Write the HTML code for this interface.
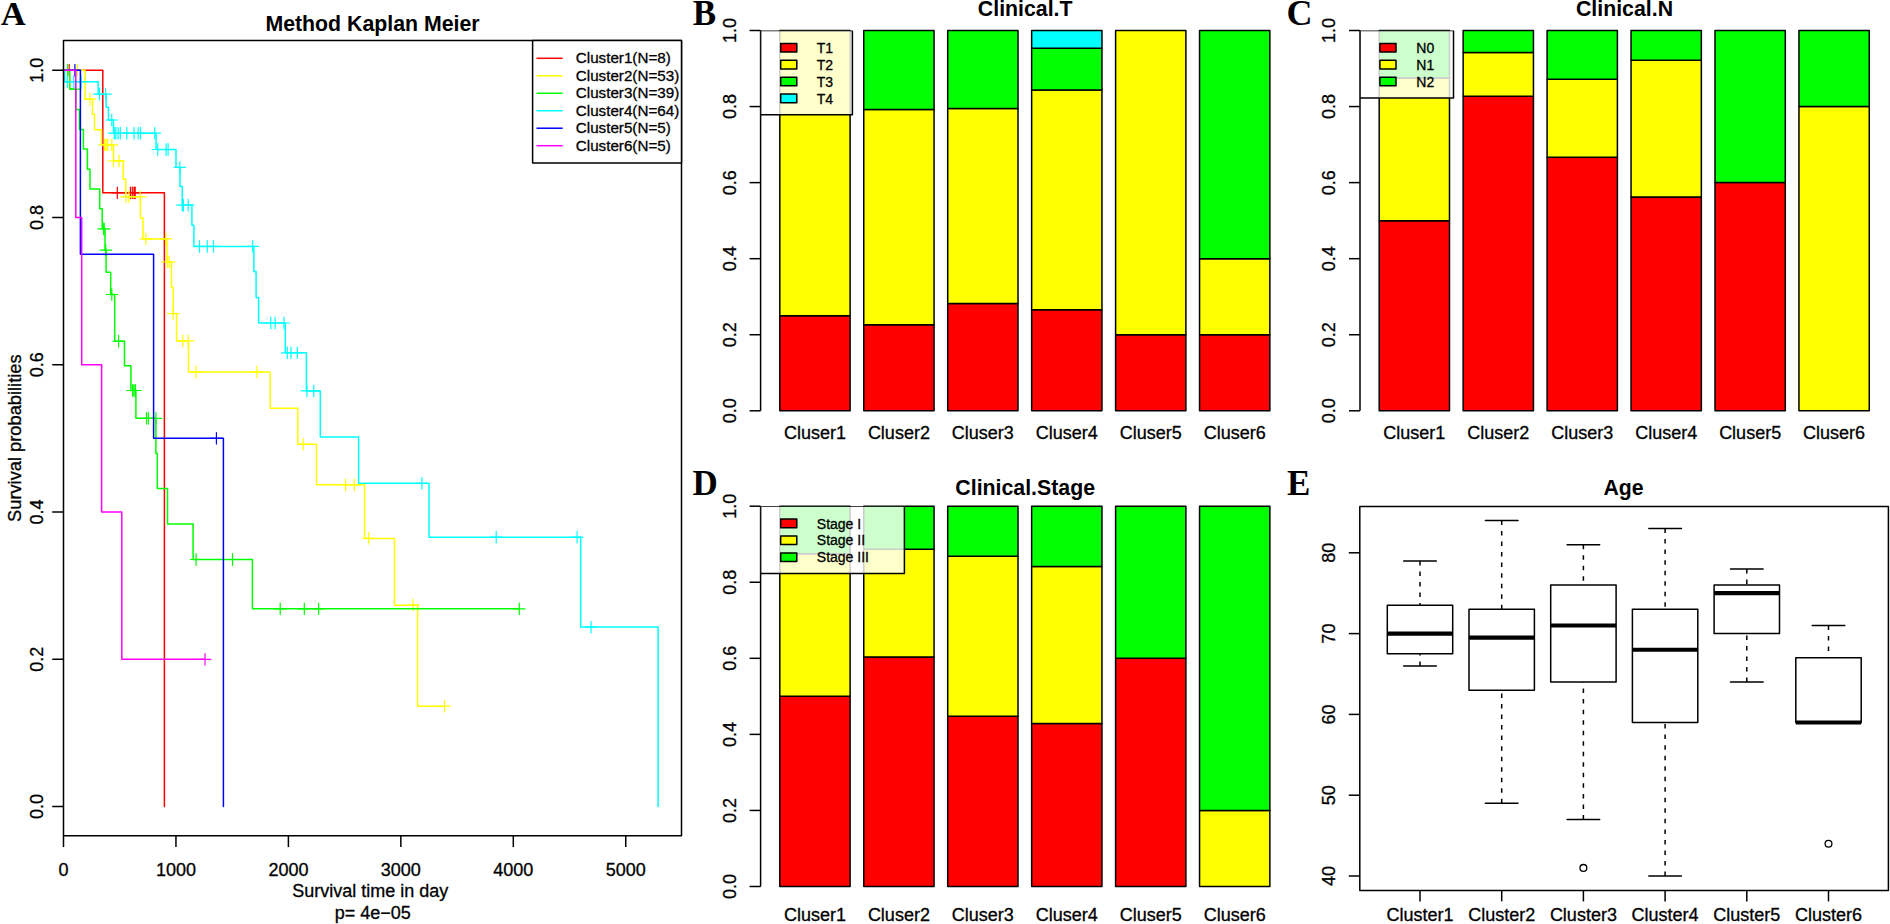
<!DOCTYPE html>
<html lang="en"><head><meta charset="utf-8"><title>Cluster survival and clinical features</title>
<style>html,body{margin:0;padding:0;background:#fff;}body{width:1890px;height:924px;overflow:hidden;}svg{display:block;}svg text{font-family:"Liberation Sans", Arial, Helvetica, sans-serif;stroke:#000;stroke-width:.3px;}svg text[font-weight=bold]{stroke:none;}svg text.sf{font-family:"Liberation Serif", "Times New Roman", serif;}</style></head><body>
<svg width="1890" height="924" viewBox="0 0 1890 924">
<rect x="0" y="0" width="1890" height="924" fill="#fff"/>
<text x="0.7" y="24.6" font-size="34.6" text-anchor="start" font-weight="bold" class="sf">A</text>
<text x="692.7" y="24.8" font-size="35" text-anchor="start" font-weight="bold" class="sf">B</text>
<text x="1286.6" y="24.7" font-size="36" text-anchor="start" font-weight="bold" class="sf">C</text>
<text x="692.5" y="495.2" font-size="35" text-anchor="start" font-weight="bold" class="sf">D</text>
<text x="1287" y="495.4" font-size="35" text-anchor="start" font-weight="bold" class="sf">E</text>
<g id="panelA">
<clipPath id="clipA"><rect x="63.5" y="40.5" width="618.0" height="795.3"/></clipPath>
<text x="372.5" y="30.8" font-size="21.3" text-anchor="middle" font-weight="bold">Method Kaplan Meier</text>
<g fill="none" stroke="#FF0000" stroke-width="1.5" stroke-linecap="round" stroke-linejoin="round" clip-path="url(#clipA)"><path d="M63.5,70.25 H102.8 V192.8 H164.4 V806.5"/><path d="M63.40,70.25h11.6M69.2,64.45v11.6M111.50,192.8h11.6M117.3,187.00v11.6M124.60,192.8h11.6M130.4,187.00v11.6M126.50,192.8h11.6M132.3,187.00v11.6M128.20,192.8h11.6M134.0,187.00v11.6M129.40,192.8h11.6M135.2,187.00v11.6" stroke-width="1.2"/></g>
<g fill="none" stroke="#FFFF00" stroke-width="1.5" stroke-linecap="round" stroke-linejoin="round" clip-path="url(#clipA)"><path d="M63.5,70.25 H85.1 V99.1 H92.5 V114.3 H94.5 V129.7 H101.6 V144.8 H113.5 V161 H123.2 V179.2 H125.7 V196.8 H140.4 V218 H143 V238.9 H167 V261.9 H171.5 V287.5 H173.2 V313.6 H176.6 V340.9 H188.5 V371.9 H270.2 V408.2 H297.8 V444.3 H316.5 V484.8 H364.6 V538.4 H394.5 V605.2 H417.6 V706.2 H444.5"/><path d="M71.40,70.25h11.6M77.2,64.45v11.6M84.20,99.1h11.6M90,93.30v11.6M98.80,144.8h11.6M104.6,139.00v11.6M100.30,144.8h11.6M106.1,139.00v11.6M101.80,144.8h11.6M107.6,139.00v11.6M106.00,144.8h11.6M111.8,139.00v11.6M107.70,161h11.6M113.5,155.20v11.6M113.20,161h11.6M119,155.20v11.6M120.20,196.8h11.6M126,191.00v11.6M123.10,196.8h11.6M128.9,191.00v11.6M134.40,196.8h11.6M140.2,191.00v11.6M140.10,238.9h11.6M145.9,233.10v11.6M160.00,238.9h11.6M165.8,233.10v11.6M161.70,261.9h11.6M167.5,256.10v11.6M163.40,261.9h11.6M169.2,256.10v11.6M167.40,313.6h11.6M173.2,307.80v11.6M177.00,340.9h11.6M182.8,335.10v11.6M182.40,340.9h11.6M188.2,335.10v11.6M190.10,371.9h11.6M195.9,366.10v11.6M251.10,371.9h11.6M256.9,366.10v11.6M297.40,444.3h11.6M303.2,438.50v11.6M339.80,484.8h11.6M345.6,479.00v11.6M348.50,484.8h11.6M354.3,479.00v11.6M362.90,538.4h11.6M368.7,532.60v11.6M407.30,605.2h11.6M413.1,599.40v11.6M438.70,706.2h11.6M444.5,700.40v11.6" stroke-width="1.2"/></g>
<g fill="none" stroke="#00FF00" stroke-width="1.5" stroke-linecap="round" stroke-linejoin="round" clip-path="url(#clipA)"><path d="M63.5,70.25 H69.8 V89.1 H75.9 V109.5 H79.4 V129.4 H83.4 V149.1 H87.4 V169.3 H90 V188.9 H99.7 V208.75 H102.2 V228.9 H105 V250.2 H106.1 V272.2 H110.7 V294.5 H114.7 V341.25 H124.5 V365.7 H130.9 V390.5 H135.9 V418.3 H155.9 V453.5 H157.3 V488.6 H167.5 V524 H193.1 V559.5 H252.4 V608.8 H519.3"/><path d="M61.90,70.25h11.6M67.7,64.45v11.6M69.70,89.1h11.6M75.5,83.30v11.6M97.80,228.9h11.6M103.6,223.10v11.6M98.40,228.9h11.6M104.2,223.10v11.6M100.00,250.2h11.6M105.8,244.40v11.6M106.00,294.5h11.6M111.8,288.70v11.6M112.80,341.25h11.6M118.6,335.45v11.6M126.80,390.5h11.6M132.6,384.70v11.6M128.20,390.5h11.6M134,384.70v11.6M129.70,390.5h11.6M135.5,384.70v11.6M140.70,418.3h11.6M146.5,412.50v11.6M142.60,418.3h11.6M148.4,412.50v11.6M150.10,418.3h11.6M155.9,412.50v11.6M190.30,559.5h11.6M196.1,553.70v11.6M226.70,559.5h11.6M232.5,553.70v11.6M274.40,608.8h11.6M280.2,603.00v11.6M298.50,608.8h11.6M304.3,603.00v11.6M312.80,608.8h11.6M318.6,603.00v11.6M513.50,608.8h11.6M519.3,603.00v11.6" stroke-width="1.2"/></g>
<g fill="none" stroke="#00FFFF" stroke-width="1.5" stroke-linecap="round" stroke-linejoin="round" clip-path="url(#clipA)"><path d="M63.5,70.25 H64.5 V81.7 H98.2 V94.2 H106.1 V107.3 H108.4 V120 H113.5 V133.2 H156.1 V149.5 H176 V167.3 H180 V186.4 H182.3 V205.1 H191.9 V225.2 H193.9 V246.4 H253.9 V271.6 H256.1 V297.4 H258.6 V323 H285.3 V352.8 H306.4 V390.9 H320.3 V436.9 H358.6 V483.3 H429 V537.2 H580.7 V627.1 H658.1 V806.5"/><path d="M61.50,81.7h11.6M67.3,75.90v11.6M67.95,81.7h11.6M73.75,75.90v11.6M75.30,81.7h11.6M81.1,75.90v11.6M93.70,94.2h11.6M99.5,88.40v11.6M99.80,94.2h11.6M105.6,88.40v11.6M106.00,120h11.6M111.8,114.20v11.6M108.50,133.2h11.6M114.3,127.40v11.6M110.00,133.2h11.6M115.8,127.40v11.6M112.30,133.2h11.6M118.1,127.40v11.6M114.50,133.2h11.6M120.3,127.40v11.6M121.00,133.2h11.6M126.8,127.40v11.6M128.20,133.2h11.6M134,127.40v11.6M132.40,133.2h11.6M138.2,127.40v11.6M134.70,133.2h11.6M140.5,127.40v11.6M149.00,133.2h11.6M154.8,127.40v11.6M152.00,149.5h11.6M157.8,143.70v11.6M160.30,149.5h11.6M166.1,143.70v11.6M162.30,149.5h11.6M168.1,143.70v11.6M174.00,167.3h11.6M179.8,161.50v11.6M176.50,205.1h11.6M182.3,199.30v11.6M177.60,205.1h11.6M183.4,199.30v11.6M182.40,205.1h11.6M188.2,199.30v11.6M193.70,246.4h11.6M199.5,240.60v11.6M201.50,246.4h11.6M207.3,240.60v11.6M207.70,246.4h11.6M213.5,240.60v11.6M246.90,246.4h11.6M252.7,240.60v11.6M265.00,323h11.6M270.8,317.20v11.6M269.30,323h11.6M275.1,317.20v11.6M278.20,323h11.6M284,317.20v11.6M281.50,352.8h11.6M287.3,347.00v11.6M285.20,352.8h11.6M291,347.00v11.6M291.50,352.8h11.6M297.3,347.00v11.6M301.10,390.9h11.6M306.9,385.10v11.6M307.95,390.9h11.6M313.75,385.10v11.6M416.10,483.3h11.6M421.9,477.50v11.6M490.40,537.2h11.6M496.2,531.40v11.6M571.30,537.2h11.6M577.1,531.40v11.6M585.20,627.1h11.6M591,621.30v11.6" stroke-width="1.2"/></g>
<g fill="none" stroke="#0000FF" stroke-width="1.5" stroke-linecap="round" stroke-linejoin="round" clip-path="url(#clipA)"><path d="M63.5,70.25 H80.4 V254.3 H153.6 V438.3 H223.4 V806.5"/><path d="M69.10,70.25h11.6M74.9,64.45v11.6M210.60,438.3h11.6M216.4,432.50v11.6" stroke-width="1.2"/></g>
<g fill="none" stroke="#FF00FF" stroke-width="1.5" stroke-linecap="round" stroke-linejoin="round" clip-path="url(#clipA)"><path d="M63.5,70.25 H75.8 V217.5 H81.7 V364.8 H101.6 V512 H121.8 V659.3 H205"/><path d="M199.20,659.3h11.6M205,653.50v11.6" stroke-width="1.2"/></g>
<rect x="63.50" y="40.50" width="618.00" height="795.30" fill="none" stroke="#000" stroke-width="1.5" stroke-linejoin="round"/>
<line x1="63.50" y1="835.8" x2="63.50" y2="847.0999999999999" stroke="#000" stroke-width="1.5"/>
<text x="63.50" y="875.7" font-size="18" text-anchor="middle">0</text>
<line x1="175.95" y1="835.8" x2="175.95" y2="847.0999999999999" stroke="#000" stroke-width="1.5"/>
<text x="175.95" y="875.7" font-size="18" text-anchor="middle">1000</text>
<line x1="288.40" y1="835.8" x2="288.40" y2="847.0999999999999" stroke="#000" stroke-width="1.5"/>
<text x="288.40" y="875.7" font-size="18" text-anchor="middle">2000</text>
<line x1="400.85" y1="835.8" x2="400.85" y2="847.0999999999999" stroke="#000" stroke-width="1.5"/>
<text x="400.85" y="875.7" font-size="18" text-anchor="middle">3000</text>
<line x1="513.30" y1="835.8" x2="513.30" y2="847.0999999999999" stroke="#000" stroke-width="1.5"/>
<text x="513.30" y="875.7" font-size="18" text-anchor="middle">4000</text>
<line x1="625.75" y1="835.8" x2="625.75" y2="847.0999999999999" stroke="#000" stroke-width="1.5"/>
<text x="625.75" y="875.7" font-size="18" text-anchor="middle">5000</text>
<line x1="52.2" y1="806.50" x2="63.5" y2="806.50" stroke="#000" stroke-width="1.5"/>
<text x="43.3" y="806.50" font-size="18" text-anchor="middle" transform="rotate(-90 43.3 806.50)">0.0</text>
<line x1="52.2" y1="659.25" x2="63.5" y2="659.25" stroke="#000" stroke-width="1.5"/>
<text x="43.3" y="659.25" font-size="18" text-anchor="middle" transform="rotate(-90 43.3 659.25)">0.2</text>
<line x1="52.2" y1="512.00" x2="63.5" y2="512.00" stroke="#000" stroke-width="1.5"/>
<text x="43.3" y="512.00" font-size="18" text-anchor="middle" transform="rotate(-90 43.3 512.00)">0.4</text>
<line x1="52.2" y1="364.75" x2="63.5" y2="364.75" stroke="#000" stroke-width="1.5"/>
<text x="43.3" y="364.75" font-size="18" text-anchor="middle" transform="rotate(-90 43.3 364.75)">0.6</text>
<line x1="52.2" y1="217.50" x2="63.5" y2="217.50" stroke="#000" stroke-width="1.5"/>
<text x="43.3" y="217.50" font-size="18" text-anchor="middle" transform="rotate(-90 43.3 217.50)">0.8</text>
<line x1="52.2" y1="70.25" x2="63.5" y2="70.25" stroke="#000" stroke-width="1.5"/>
<text x="43.3" y="70.25" font-size="18" text-anchor="middle" transform="rotate(-90 43.3 70.25)">1.0</text>
<text x="370.3" y="897.1" font-size="18" text-anchor="middle">Survival time in day</text>
<text x="372.7" y="918.7" font-size="18" text-anchor="middle">p= 4e&#8722;05</text>
<text x="21" y="438.2" font-size="18.27" text-anchor="middle" transform="rotate(-90 21 438.2)">Survival probabilities</text>
<rect x="532.60" y="40.50" width="148.90" height="122.60" fill="#fff" stroke="#000" stroke-width="1.5" stroke-linejoin="round"/>
<line x1="536.5" y1="58.30" x2="562.7" y2="58.30" stroke="#FF0000" stroke-width="1.5"/>
<text x="575.8" y="63.20" font-size="15.2" text-anchor="start">Cluster1(N=8)</text>
<line x1="536.5" y1="75.78" x2="562.7" y2="75.78" stroke="#FFFF00" stroke-width="1.5"/>
<text x="575.8" y="80.68" font-size="15.2" text-anchor="start">Cluster2(N=53)</text>
<line x1="536.5" y1="93.26" x2="562.7" y2="93.26" stroke="#00FF00" stroke-width="1.5"/>
<text x="575.8" y="98.16" font-size="15.2" text-anchor="start">Cluster3(N=39)</text>
<line x1="536.5" y1="110.74" x2="562.7" y2="110.74" stroke="#00FFFF" stroke-width="1.5"/>
<text x="575.8" y="115.64" font-size="15.2" text-anchor="start">Cluster4(N=64)</text>
<line x1="536.5" y1="128.22" x2="562.7" y2="128.22" stroke="#0000FF" stroke-width="1.5"/>
<text x="575.8" y="133.12" font-size="15.2" text-anchor="start">Cluster5(N=5)</text>
<line x1="536.5" y1="145.70" x2="562.7" y2="145.70" stroke="#FF00FF" stroke-width="1.5"/>
<text x="575.8" y="150.60" font-size="15.2" text-anchor="start">Cluster6(N=5)</text>
</g>
<g id="panelB">
<text x="1025.2" y="16.3" font-size="21.3" text-anchor="middle" font-weight="bold">Clinical.T</text>
<rect x="779.80" y="315.73" width="70.30" height="95.07" fill="#FF0000" stroke="#000" stroke-width="1.5" stroke-linejoin="round"/>
<rect x="779.80" y="30.50" width="70.30" height="285.23" fill="#FFFF00" stroke="#000" stroke-width="1.5" stroke-linejoin="round"/>
<text x="814.95" y="438.9" font-size="18" text-anchor="middle">Cluser1</text>
<rect x="863.75" y="324.69" width="70.30" height="86.11" fill="#FF0000" stroke="#000" stroke-width="1.5" stroke-linejoin="round"/>
<rect x="863.75" y="109.43" width="70.30" height="215.26" fill="#FFFF00" stroke="#000" stroke-width="1.5" stroke-linejoin="round"/>
<rect x="863.75" y="30.50" width="70.30" height="78.93" fill="#00FF00" stroke="#000" stroke-width="1.5" stroke-linejoin="round"/>
<text x="898.90" y="438.9" font-size="18" text-anchor="middle">Cluser2</text>
<rect x="947.70" y="303.54" width="70.30" height="107.26" fill="#FF0000" stroke="#000" stroke-width="1.5" stroke-linejoin="round"/>
<rect x="947.70" y="108.51" width="70.30" height="195.03" fill="#FFFF00" stroke="#000" stroke-width="1.5" stroke-linejoin="round"/>
<rect x="947.70" y="30.50" width="70.30" height="78.01" fill="#00FF00" stroke="#000" stroke-width="1.5" stroke-linejoin="round"/>
<text x="982.85" y="438.9" font-size="18" text-anchor="middle">Cluser3</text>
<rect x="1031.65" y="309.78" width="70.30" height="101.02" fill="#FF0000" stroke="#000" stroke-width="1.5" stroke-linejoin="round"/>
<rect x="1031.65" y="89.92" width="70.30" height="219.86" fill="#FFFF00" stroke="#000" stroke-width="1.5" stroke-linejoin="round"/>
<rect x="1031.65" y="48.33" width="70.30" height="41.60" fill="#00FF00" stroke="#000" stroke-width="1.5" stroke-linejoin="round"/>
<rect x="1031.65" y="30.50" width="70.30" height="17.83" fill="#00FFFF" stroke="#000" stroke-width="1.5" stroke-linejoin="round"/>
<text x="1066.80" y="438.9" font-size="18" text-anchor="middle">Cluser4</text>
<rect x="1115.60" y="334.74" width="70.30" height="76.06" fill="#FF0000" stroke="#000" stroke-width="1.5" stroke-linejoin="round"/>
<rect x="1115.60" y="30.50" width="70.30" height="304.24" fill="#FFFF00" stroke="#000" stroke-width="1.5" stroke-linejoin="round"/>
<text x="1150.75" y="438.9" font-size="18" text-anchor="middle">Cluser5</text>
<rect x="1199.55" y="334.74" width="70.30" height="76.06" fill="#FF0000" stroke="#000" stroke-width="1.5" stroke-linejoin="round"/>
<rect x="1199.55" y="258.68" width="70.30" height="76.06" fill="#FFFF00" stroke="#000" stroke-width="1.5" stroke-linejoin="round"/>
<rect x="1199.55" y="30.50" width="70.30" height="228.18" fill="#00FF00" stroke="#000" stroke-width="1.5" stroke-linejoin="round"/>
<text x="1234.70" y="438.9" font-size="18" text-anchor="middle">Cluser6</text>
<line x1="760.6" y1="30.5" x2="760.6" y2="410.8" stroke="#000" stroke-width="1.5"/>
<line x1="749.6" y1="410.80" x2="760.6" y2="410.80" stroke="#000" stroke-width="1.5"/>
<text x="735.8000000000001" y="410.80" font-size="18" text-anchor="middle" transform="rotate(-90 735.8000000000001 410.80)">0.0</text>
<line x1="749.6" y1="334.74" x2="760.6" y2="334.74" stroke="#000" stroke-width="1.5"/>
<text x="735.8000000000001" y="334.74" font-size="18" text-anchor="middle" transform="rotate(-90 735.8000000000001 334.74)">0.2</text>
<line x1="749.6" y1="258.68" x2="760.6" y2="258.68" stroke="#000" stroke-width="1.5"/>
<text x="735.8000000000001" y="258.68" font-size="18" text-anchor="middle" transform="rotate(-90 735.8000000000001 258.68)">0.4</text>
<line x1="749.6" y1="182.62" x2="760.6" y2="182.62" stroke="#000" stroke-width="1.5"/>
<text x="735.8000000000001" y="182.62" font-size="18" text-anchor="middle" transform="rotate(-90 735.8000000000001 182.62)">0.6</text>
<line x1="749.6" y1="106.56" x2="760.6" y2="106.56" stroke="#000" stroke-width="1.5"/>
<text x="735.8000000000001" y="106.56" font-size="18" text-anchor="middle" transform="rotate(-90 735.8000000000001 106.56)">0.8</text>
<line x1="749.6" y1="30.50" x2="760.6" y2="30.50" stroke="#000" stroke-width="1.5"/>
<text x="735.8000000000001" y="30.50" font-size="18" text-anchor="middle" transform="rotate(-90 735.8000000000001 30.50)">1.0</text>
<clipPath id="clippanelB"><rect x="760.6" y="30.5" width="400" height="400"/></clipPath>
<rect x="760.60" y="30.50" width="91.80" height="84.30" fill="#fff" stroke="#000" stroke-width="1.5" stroke-linejoin="round" fill-opacity="0.8" clip-path="url(#clippanelB)"/>
<rect x="780.70" y="43.40" width="16.10" height="8.60" fill="#FF0000" stroke="#000" stroke-width="1.5" stroke-linejoin="round"/>
<text x="816.8000000000001" y="52.80" font-size="14.0" text-anchor="start">T1</text>
<rect x="780.70" y="60.30" width="16.10" height="8.60" fill="#FFFF00" stroke="#000" stroke-width="1.5" stroke-linejoin="round"/>
<text x="816.8000000000001" y="69.70" font-size="14.0" text-anchor="start">T2</text>
<rect x="780.70" y="77.20" width="16.10" height="8.60" fill="#00FF00" stroke="#000" stroke-width="1.5" stroke-linejoin="round"/>
<text x="816.8000000000001" y="86.60" font-size="14.0" text-anchor="start">T3</text>
<rect x="780.70" y="94.10" width="16.10" height="8.60" fill="#00FFFF" stroke="#000" stroke-width="1.5" stroke-linejoin="round"/>
<text x="816.8000000000001" y="103.50" font-size="14.0" text-anchor="start">T4</text>
</g>
<g id="panelC">
<text x="1624.5" y="16.3" font-size="21.3" text-anchor="middle" font-weight="bold">Clinical.N</text>
<rect x="1379.20" y="220.65" width="70.30" height="190.15" fill="#FF0000" stroke="#000" stroke-width="1.5" stroke-linejoin="round"/>
<rect x="1379.20" y="78.04" width="70.30" height="142.61" fill="#FFFF00" stroke="#000" stroke-width="1.5" stroke-linejoin="round"/>
<rect x="1379.20" y="30.50" width="70.30" height="47.54" fill="#00FF00" stroke="#000" stroke-width="1.5" stroke-linejoin="round"/>
<text x="1414.35" y="438.9" font-size="18" text-anchor="middle">Cluser1</text>
<rect x="1463.15" y="96.32" width="70.30" height="314.48" fill="#FF0000" stroke="#000" stroke-width="1.5" stroke-linejoin="round"/>
<rect x="1463.15" y="52.44" width="70.30" height="43.88" fill="#FFFF00" stroke="#000" stroke-width="1.5" stroke-linejoin="round"/>
<rect x="1463.15" y="30.50" width="70.30" height="21.94" fill="#00FF00" stroke="#000" stroke-width="1.5" stroke-linejoin="round"/>
<text x="1498.30" y="438.9" font-size="18" text-anchor="middle">Cluser2</text>
<rect x="1547.10" y="157.27" width="70.30" height="253.53" fill="#FF0000" stroke="#000" stroke-width="1.5" stroke-linejoin="round"/>
<rect x="1547.10" y="79.26" width="70.30" height="78.01" fill="#FFFF00" stroke="#000" stroke-width="1.5" stroke-linejoin="round"/>
<rect x="1547.10" y="30.50" width="70.30" height="48.76" fill="#00FF00" stroke="#000" stroke-width="1.5" stroke-linejoin="round"/>
<text x="1582.25" y="438.9" font-size="18" text-anchor="middle">Cluser3</text>
<rect x="1631.05" y="196.88" width="70.30" height="213.92" fill="#FF0000" stroke="#000" stroke-width="1.5" stroke-linejoin="round"/>
<rect x="1631.05" y="60.21" width="70.30" height="136.67" fill="#FFFF00" stroke="#000" stroke-width="1.5" stroke-linejoin="round"/>
<rect x="1631.05" y="30.50" width="70.30" height="29.71" fill="#00FF00" stroke="#000" stroke-width="1.5" stroke-linejoin="round"/>
<text x="1666.20" y="438.9" font-size="18" text-anchor="middle">Cluser4</text>
<rect x="1715.00" y="182.62" width="70.30" height="228.18" fill="#FF0000" stroke="#000" stroke-width="1.5" stroke-linejoin="round"/>
<rect x="1715.00" y="30.50" width="70.30" height="152.12" fill="#00FF00" stroke="#000" stroke-width="1.5" stroke-linejoin="round"/>
<text x="1750.15" y="438.9" font-size="18" text-anchor="middle">Cluser5</text>
<rect x="1798.95" y="106.56" width="70.30" height="304.24" fill="#FFFF00" stroke="#000" stroke-width="1.5" stroke-linejoin="round"/>
<rect x="1798.95" y="30.50" width="70.30" height="76.06" fill="#00FF00" stroke="#000" stroke-width="1.5" stroke-linejoin="round"/>
<text x="1834.10" y="438.9" font-size="18" text-anchor="middle">Cluser6</text>
<line x1="1360" y1="30.5" x2="1360" y2="410.8" stroke="#000" stroke-width="1.5"/>
<line x1="1349" y1="410.80" x2="1360" y2="410.80" stroke="#000" stroke-width="1.5"/>
<text x="1335.2" y="410.80" font-size="18" text-anchor="middle" transform="rotate(-90 1335.2 410.80)">0.0</text>
<line x1="1349" y1="334.74" x2="1360" y2="334.74" stroke="#000" stroke-width="1.5"/>
<text x="1335.2" y="334.74" font-size="18" text-anchor="middle" transform="rotate(-90 1335.2 334.74)">0.2</text>
<line x1="1349" y1="258.68" x2="1360" y2="258.68" stroke="#000" stroke-width="1.5"/>
<text x="1335.2" y="258.68" font-size="18" text-anchor="middle" transform="rotate(-90 1335.2 258.68)">0.4</text>
<line x1="1349" y1="182.62" x2="1360" y2="182.62" stroke="#000" stroke-width="1.5"/>
<text x="1335.2" y="182.62" font-size="18" text-anchor="middle" transform="rotate(-90 1335.2 182.62)">0.6</text>
<line x1="1349" y1="106.56" x2="1360" y2="106.56" stroke="#000" stroke-width="1.5"/>
<text x="1335.2" y="106.56" font-size="18" text-anchor="middle" transform="rotate(-90 1335.2 106.56)">0.8</text>
<line x1="1349" y1="30.50" x2="1360" y2="30.50" stroke="#000" stroke-width="1.5"/>
<text x="1335.2" y="30.50" font-size="18" text-anchor="middle" transform="rotate(-90 1335.2 30.50)">1.0</text>
<clipPath id="clippanelC"><rect x="1360" y="30.5" width="400" height="400"/></clipPath>
<rect x="1360.00" y="30.50" width="93.50" height="67.60" fill="#fff" stroke="#000" stroke-width="1.5" stroke-linejoin="round" fill-opacity="0.8" clip-path="url(#clippanelC)"/>
<rect x="1379.90" y="43.40" width="16.10" height="8.60" fill="#FF0000" stroke="#000" stroke-width="1.5" stroke-linejoin="round"/>
<text x="1416.3" y="52.80" font-size="14.0" text-anchor="start">N0</text>
<rect x="1379.90" y="60.30" width="16.10" height="8.60" fill="#FFFF00" stroke="#000" stroke-width="1.5" stroke-linejoin="round"/>
<text x="1416.3" y="69.70" font-size="14.0" text-anchor="start">N1</text>
<rect x="1379.90" y="77.20" width="16.10" height="8.60" fill="#00FF00" stroke="#000" stroke-width="1.5" stroke-linejoin="round"/>
<text x="1416.3" y="86.60" font-size="14.0" text-anchor="start">N2</text>
</g>
<g id="panelD">
<text x="1025.2" y="495.3" font-size="21.3" text-anchor="middle" font-weight="bold">Clinical.Stage</text>
<rect x="779.80" y="696.35" width="70.30" height="190.15" fill="#FF0000" stroke="#000" stroke-width="1.5" stroke-linejoin="round"/>
<rect x="779.80" y="553.74" width="70.30" height="142.61" fill="#FFFF00" stroke="#000" stroke-width="1.5" stroke-linejoin="round"/>
<rect x="779.80" y="506.20" width="70.30" height="47.54" fill="#00FF00" stroke="#000" stroke-width="1.5" stroke-linejoin="round"/>
<text x="814.95" y="920.9" font-size="18" text-anchor="middle">Cluser1</text>
<rect x="863.75" y="656.88" width="70.30" height="229.62" fill="#FF0000" stroke="#000" stroke-width="1.5" stroke-linejoin="round"/>
<rect x="863.75" y="549.25" width="70.30" height="107.63" fill="#FFFF00" stroke="#000" stroke-width="1.5" stroke-linejoin="round"/>
<rect x="863.75" y="506.20" width="70.30" height="43.05" fill="#00FF00" stroke="#000" stroke-width="1.5" stroke-linejoin="round"/>
<text x="898.90" y="920.9" font-size="18" text-anchor="middle">Cluser2</text>
<rect x="947.70" y="716.37" width="70.30" height="170.13" fill="#FF0000" stroke="#000" stroke-width="1.5" stroke-linejoin="round"/>
<rect x="947.70" y="556.24" width="70.30" height="160.13" fill="#FFFF00" stroke="#000" stroke-width="1.5" stroke-linejoin="round"/>
<rect x="947.70" y="506.20" width="70.30" height="50.04" fill="#00FF00" stroke="#000" stroke-width="1.5" stroke-linejoin="round"/>
<text x="982.85" y="920.9" font-size="18" text-anchor="middle">Cluser3</text>
<rect x="1031.65" y="723.51" width="70.30" height="162.99" fill="#FF0000" stroke="#000" stroke-width="1.5" stroke-linejoin="round"/>
<rect x="1031.65" y="566.57" width="70.30" height="156.95" fill="#FFFF00" stroke="#000" stroke-width="1.5" stroke-linejoin="round"/>
<rect x="1031.65" y="506.20" width="70.30" height="60.37" fill="#00FF00" stroke="#000" stroke-width="1.5" stroke-linejoin="round"/>
<text x="1066.80" y="920.9" font-size="18" text-anchor="middle">Cluser4</text>
<rect x="1115.60" y="658.32" width="70.30" height="228.18" fill="#FF0000" stroke="#000" stroke-width="1.5" stroke-linejoin="round"/>
<rect x="1115.60" y="506.20" width="70.30" height="152.12" fill="#00FF00" stroke="#000" stroke-width="1.5" stroke-linejoin="round"/>
<text x="1150.75" y="920.9" font-size="18" text-anchor="middle">Cluser5</text>
<rect x="1199.55" y="810.44" width="70.30" height="76.06" fill="#FFFF00" stroke="#000" stroke-width="1.5" stroke-linejoin="round"/>
<rect x="1199.55" y="506.20" width="70.30" height="304.24" fill="#00FF00" stroke="#000" stroke-width="1.5" stroke-linejoin="round"/>
<text x="1234.70" y="920.9" font-size="18" text-anchor="middle">Cluser6</text>
<line x1="760.6" y1="506.2" x2="760.6" y2="886.5" stroke="#000" stroke-width="1.5"/>
<line x1="749.6" y1="886.50" x2="760.6" y2="886.50" stroke="#000" stroke-width="1.5"/>
<text x="735.8000000000001" y="886.50" font-size="18" text-anchor="middle" transform="rotate(-90 735.8000000000001 886.50)">0.0</text>
<line x1="749.6" y1="810.44" x2="760.6" y2="810.44" stroke="#000" stroke-width="1.5"/>
<text x="735.8000000000001" y="810.44" font-size="18" text-anchor="middle" transform="rotate(-90 735.8000000000001 810.44)">0.2</text>
<line x1="749.6" y1="734.38" x2="760.6" y2="734.38" stroke="#000" stroke-width="1.5"/>
<text x="735.8000000000001" y="734.38" font-size="18" text-anchor="middle" transform="rotate(-90 735.8000000000001 734.38)">0.4</text>
<line x1="749.6" y1="658.32" x2="760.6" y2="658.32" stroke="#000" stroke-width="1.5"/>
<text x="735.8000000000001" y="658.32" font-size="18" text-anchor="middle" transform="rotate(-90 735.8000000000001 658.32)">0.6</text>
<line x1="749.6" y1="582.26" x2="760.6" y2="582.26" stroke="#000" stroke-width="1.5"/>
<text x="735.8000000000001" y="582.26" font-size="18" text-anchor="middle" transform="rotate(-90 735.8000000000001 582.26)">0.8</text>
<line x1="749.6" y1="506.20" x2="760.6" y2="506.20" stroke="#000" stroke-width="1.5"/>
<text x="735.8000000000001" y="506.20" font-size="18" text-anchor="middle" transform="rotate(-90 735.8000000000001 506.20)">1.0</text>
<clipPath id="clippanelD"><rect x="760.6" y="506.2" width="400" height="400"/></clipPath>
<rect x="760.60" y="506.20" width="143.80" height="67.30" fill="#fff" stroke="#000" stroke-width="1.5" stroke-linejoin="round" fill-opacity="0.8" clip-path="url(#clippanelD)"/>
<rect x="780.70" y="519.10" width="16.10" height="8.60" fill="#FF0000" stroke="#000" stroke-width="1.5" stroke-linejoin="round"/>
<text x="816.8000000000001" y="528.50" font-size="14.0" text-anchor="start">Stage I</text>
<rect x="780.70" y="536.00" width="16.10" height="8.60" fill="#FFFF00" stroke="#000" stroke-width="1.5" stroke-linejoin="round"/>
<text x="816.8000000000001" y="545.40" font-size="14.0" text-anchor="start">Stage II</text>
<rect x="780.70" y="552.90" width="16.10" height="8.60" fill="#00FF00" stroke="#000" stroke-width="1.5" stroke-linejoin="round"/>
<text x="816.8000000000001" y="562.30" font-size="14.0" text-anchor="start">Stage III</text>
</g>
<g id="panelE">
<text x="1623.5" y="495.3" font-size="21.3" text-anchor="middle" font-weight="bold">Age</text>
<line x1="1420.00" y1="560.88" x2="1420.00" y2="605.32" stroke="#000" stroke-width="1.5" stroke-dasharray="4.5,6.03"/>
<line x1="1420.00" y1="665.92" x2="1420.00" y2="653.80" stroke="#000" stroke-width="1.5" stroke-dasharray="4.5,6.03"/>
<line x1="1403.70" y1="560.88" x2="1436.30" y2="560.88" stroke="#000" stroke-width="1.5" stroke-linecap="round"/>
<line x1="1403.70" y1="665.92" x2="1436.30" y2="665.92" stroke="#000" stroke-width="1.5" stroke-linecap="round"/>
<rect x="1387.30" y="605.32" width="65.40" height="48.48" fill="#fff" stroke="#000" stroke-width="1.5" stroke-linejoin="round"/>
<line x1="1387.30" y1="633.60" x2="1452.70" y2="633.60" stroke="#000" stroke-width="4.2"/>
<line x1="1420.00" y1="890.4" x2="1420.00" y2="901.4" stroke="#000" stroke-width="1.5"/>
<text x="1420.00" y="920.8" font-size="18" text-anchor="middle">Cluster1</text>
<line x1="1501.70" y1="520.48" x2="1501.70" y2="609.36" stroke="#000" stroke-width="1.5" stroke-dasharray="4.5,6.03"/>
<line x1="1501.70" y1="803.28" x2="1501.70" y2="690.16" stroke="#000" stroke-width="1.5" stroke-dasharray="4.5,6.03"/>
<line x1="1485.40" y1="520.48" x2="1518.00" y2="520.48" stroke="#000" stroke-width="1.5" stroke-linecap="round"/>
<line x1="1485.40" y1="803.28" x2="1518.00" y2="803.28" stroke="#000" stroke-width="1.5" stroke-linecap="round"/>
<rect x="1469.00" y="609.36" width="65.40" height="80.80" fill="#fff" stroke="#000" stroke-width="1.5" stroke-linejoin="round"/>
<line x1="1469.00" y1="637.64" x2="1534.40" y2="637.64" stroke="#000" stroke-width="4.2"/>
<line x1="1501.70" y1="890.4" x2="1501.70" y2="901.4" stroke="#000" stroke-width="1.5"/>
<text x="1501.70" y="920.8" font-size="18" text-anchor="middle">Cluster2</text>
<line x1="1583.40" y1="544.72" x2="1583.40" y2="585.12" stroke="#000" stroke-width="1.5" stroke-dasharray="4.5,6.03"/>
<line x1="1583.40" y1="819.44" x2="1583.40" y2="682.08" stroke="#000" stroke-width="1.5" stroke-dasharray="4.5,6.03"/>
<line x1="1567.10" y1="544.72" x2="1599.70" y2="544.72" stroke="#000" stroke-width="1.5" stroke-linecap="round"/>
<line x1="1567.10" y1="819.44" x2="1599.70" y2="819.44" stroke="#000" stroke-width="1.5" stroke-linecap="round"/>
<rect x="1550.70" y="585.12" width="65.40" height="96.96" fill="#fff" stroke="#000" stroke-width="1.5" stroke-linejoin="round"/>
<line x1="1550.70" y1="625.52" x2="1616.10" y2="625.52" stroke="#000" stroke-width="4.2"/>
<circle cx="1583.40" cy="867.92" r="3.4" fill="none" stroke="#000" stroke-width="1.3"/>
<line x1="1583.40" y1="890.4" x2="1583.40" y2="901.4" stroke="#000" stroke-width="1.5"/>
<text x="1583.40" y="920.8" font-size="18" text-anchor="middle">Cluster3</text>
<line x1="1665.10" y1="528.56" x2="1665.10" y2="609.36" stroke="#000" stroke-width="1.5" stroke-dasharray="4.5,6.03"/>
<line x1="1665.10" y1="876.00" x2="1665.10" y2="722.48" stroke="#000" stroke-width="1.5" stroke-dasharray="4.5,6.03"/>
<line x1="1648.80" y1="528.56" x2="1681.40" y2="528.56" stroke="#000" stroke-width="1.5" stroke-linecap="round"/>
<line x1="1648.80" y1="876.00" x2="1681.40" y2="876.00" stroke="#000" stroke-width="1.5" stroke-linecap="round"/>
<rect x="1632.40" y="609.36" width="65.40" height="113.12" fill="#fff" stroke="#000" stroke-width="1.5" stroke-linejoin="round"/>
<line x1="1632.40" y1="649.76" x2="1697.80" y2="649.76" stroke="#000" stroke-width="4.2"/>
<line x1="1665.10" y1="890.4" x2="1665.10" y2="901.4" stroke="#000" stroke-width="1.5"/>
<text x="1665.10" y="920.8" font-size="18" text-anchor="middle">Cluster4</text>
<line x1="1746.80" y1="568.96" x2="1746.80" y2="585.12" stroke="#000" stroke-width="1.5" stroke-dasharray="4.5,6.03"/>
<line x1="1746.80" y1="682.08" x2="1746.80" y2="633.60" stroke="#000" stroke-width="1.5" stroke-dasharray="4.5,6.03"/>
<line x1="1730.50" y1="568.96" x2="1763.10" y2="568.96" stroke="#000" stroke-width="1.5" stroke-linecap="round"/>
<line x1="1730.50" y1="682.08" x2="1763.10" y2="682.08" stroke="#000" stroke-width="1.5" stroke-linecap="round"/>
<rect x="1714.10" y="585.12" width="65.40" height="48.48" fill="#fff" stroke="#000" stroke-width="1.5" stroke-linejoin="round"/>
<line x1="1714.10" y1="593.20" x2="1779.50" y2="593.20" stroke="#000" stroke-width="4.2"/>
<line x1="1746.80" y1="890.4" x2="1746.80" y2="901.4" stroke="#000" stroke-width="1.5"/>
<text x="1746.80" y="920.8" font-size="18" text-anchor="middle">Cluster5</text>
<line x1="1828.50" y1="625.52" x2="1828.50" y2="657.84" stroke="#000" stroke-width="1.5" stroke-dasharray="4.5,6.03"/>
<line x1="1812.20" y1="625.52" x2="1844.80" y2="625.52" stroke="#000" stroke-width="1.5" stroke-linecap="round"/>
<line x1="1812.20" y1="722.48" x2="1844.80" y2="722.48" stroke="#000" stroke-width="1.5" stroke-linecap="round"/>
<rect x="1795.80" y="657.84" width="65.40" height="64.64" fill="#fff" stroke="#000" stroke-width="1.5" stroke-linejoin="round"/>
<line x1="1795.80" y1="722.48" x2="1861.20" y2="722.48" stroke="#000" stroke-width="4.2"/>
<circle cx="1828.50" cy="843.68" r="3.4" fill="none" stroke="#000" stroke-width="1.3"/>
<line x1="1828.50" y1="890.4" x2="1828.50" y2="901.4" stroke="#000" stroke-width="1.5"/>
<text x="1828.50" y="920.8" font-size="18" text-anchor="middle">Cluster6</text>
<rect x="1359.80" y="506.60" width="528.60" height="383.80" fill="none" stroke="#000" stroke-width="1.5" stroke-linejoin="round"/>
<line x1="1348.8" y1="876.00" x2="1359.8" y2="876.00" stroke="#000" stroke-width="1.5"/>
<text x="1335.2" y="876.00" font-size="18" text-anchor="middle" transform="rotate(-90 1335.2 876.00)">40</text>
<line x1="1348.8" y1="795.20" x2="1359.8" y2="795.20" stroke="#000" stroke-width="1.5"/>
<text x="1335.2" y="795.20" font-size="18" text-anchor="middle" transform="rotate(-90 1335.2 795.20)">50</text>
<line x1="1348.8" y1="714.40" x2="1359.8" y2="714.40" stroke="#000" stroke-width="1.5"/>
<text x="1335.2" y="714.40" font-size="18" text-anchor="middle" transform="rotate(-90 1335.2 714.40)">60</text>
<line x1="1348.8" y1="633.60" x2="1359.8" y2="633.60" stroke="#000" stroke-width="1.5"/>
<text x="1335.2" y="633.60" font-size="18" text-anchor="middle" transform="rotate(-90 1335.2 633.60)">70</text>
<line x1="1348.8" y1="552.80" x2="1359.8" y2="552.80" stroke="#000" stroke-width="1.5"/>
<text x="1335.2" y="552.80" font-size="18" text-anchor="middle" transform="rotate(-90 1335.2 552.80)">80</text>
</g>
</svg></body></html>
